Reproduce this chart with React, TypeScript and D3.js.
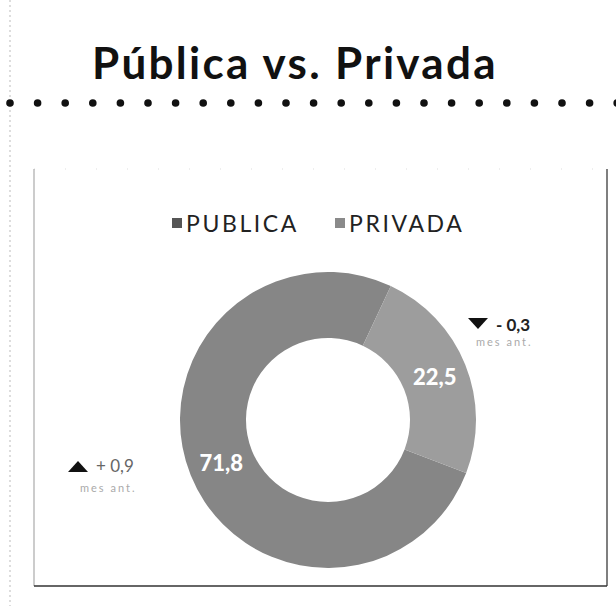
import React, { useRef, useEffect } from 'react';
import * as d3 from 'd3';

const categories = ['PUBLICA', 'PRIVADA'];
const values = [71.8, 22.5];
const valueLabels = ['71,8', '22,5'];
const changeLabels = ['+ 0,9', '- 0,3'];
const changeNote = 'mes ant.';
const colors = ['#868686', '#9d9d9d'];

const W = 616;
const H = 606;

const App: React.FC = () => {
  const ref = useRef<SVGSVGElement | null>(null);

  useEffect(() => {
    const svg = d3.select(ref.current);
    svg.selectAll('*').remove();
    svg.attr('width', W).attr('height', H);

    svg.append('rect').attr('width', W).attr('height', H).attr('fill', '#fff');

    // page edge, dotted
    svg.append('line')
      .attr('x1', 10).attr('x2', 10).attr('y1', 0).attr('y2', H)
      .attr('stroke', '#bbb').attr('stroke-dasharray', '2,3');

    svg.append('text')
      .attr('x', 92).attr('y', 79)
      .style('font-family', 'Lato, sans-serif')
      .style('font-weight', 700)
      .style('font-size', '44px')
      .style('letter-spacing', '2.3px')
      .attr('fill', '#111')
      .text('Pública vs. Privada');

    // dot row under the title
    const dots = d3.range(24).map((i) => 10 + i * 27.6);
    svg.append('g').selectAll('circle').data(dots).join('circle')
      .attr('cx', (d) => d).attr('cy', 103).attr('r', 3.8).attr('fill', '#111');

    // chart frame
    const frame = svg.append('g').attr('fill', 'none');
    frame.append('line').attr('x1', 34).attr('x2', 607).attr('y1', 169).attr('y2', 169)
      .attr('stroke', '#ddd').attr('stroke-dasharray', '1,30');
    frame.append('line').attr('x1', 34).attr('x2', 34).attr('y1', 169).attr('y2', 586)
      .attr('stroke', '#999');
    frame.append('line').attr('x1', 607).attr('x2', 607).attr('y1', 169).attr('y2', 586)
      .attr('stroke', '#555').attr('stroke-width', 1.5);
    frame.append('line').attr('x1', 34).attr('x2', 607).attr('y1', 586).attr('y2', 586)
      .attr('stroke', '#333').attr('stroke-width', 1.5);

    // legend
    const legendX = [172, 335];
    const legend = svg.append('g');
    categories.forEach((c, i) => {
      legend.append('rect')
        .attr('x', legendX[i]).attr('y', 218).attr('width', 10).attr('height', 10)
        .attr('fill', i === 0 ? '#555' : '#8a8a8a');
      legend.append('text')
        .attr('x', legendX[i] + 14).attr('y', 232)
        .style('font-family', 'Lato, sans-serif')
        .style('font-size', '23px')
        .style('letter-spacing', '2.6px')
        .attr('fill', '#222')
        .text(c);
    });

    // donut
    const cx = 328;
    const cy = 420;
    const outer = 148;
    const inner = 82;
    const start = (111 * Math.PI) / 180;

    const pie = d3.pie<number>().sort(null).value((d) => d)
      .startAngle(start).endAngle(start + 2 * Math.PI);
    const arcs = pie(values);
    const arc = d3.arc<d3.PieArcDatum<number>>().innerRadius(inner).outerRadius(outer);

    const g = svg.append('g').attr('transform', `translate(${cx},${cy})`);
    arcs.forEach((d, i) => {
      g.append('path').attr('d', arc(d)!).attr('fill', colors[i]);
    });
    arcs.forEach((d, i) => {
      const [x, y] = arc.centroid(d);
      g.append('text')
        .attr('x', x).attr('y', y).attr('dy', '0.35em')
        .attr('text-anchor', 'middle')
        .style('font-family', 'Lato, sans-serif')
        .style('font-weight', 900)
        .style('font-size', '22px')
        .attr('fill', '#fff')
        .text(valueLabels[i]);
    });

    // change annotations
    const notes = [
      { x: 68, y: 472, up: true, label: changeLabels[0], nx: 80, ny: 492 },
      { x: 468, y: 318, up: false, label: changeLabels[1], nx: 476, ny: 346 },
    ];
    notes.forEach((n) => {
      const tri = n.up
        ? `M${n.x},${n.y} L${n.x + 20},${n.y} L${n.x + 10},${n.y - 11} Z`
        : `M${n.x},${n.y} L${n.x + 20},${n.y} L${n.x + 10},${n.y + 11} Z`;
      svg.append('path').attr('d', tri).attr('fill', '#111');
      svg.append('text')
        .attr('x', n.x + 28).attr('y', n.up ? n.y : n.y + 13)
        .style('font-family', 'Lato, sans-serif')
        .style('font-size', '17px')
        .style('font-weight', n.up ? 400 : 700)
        .attr('fill', n.up ? '#666' : '#222')
        .text(n.label);
      svg.append('text')
        .attr('x', n.nx).attr('y', n.ny)
        .style('font-family', 'Lato, sans-serif')
        .style('font-size', '11px')
        .style('letter-spacing', '2px')
        .attr('fill', '#aaa')
        .text(changeNote);
    });
  }, []);

  return <svg ref={ref} style={{ position: 'absolute', left: 0, top: 0, display: 'block' }} />;
};

export default App;
